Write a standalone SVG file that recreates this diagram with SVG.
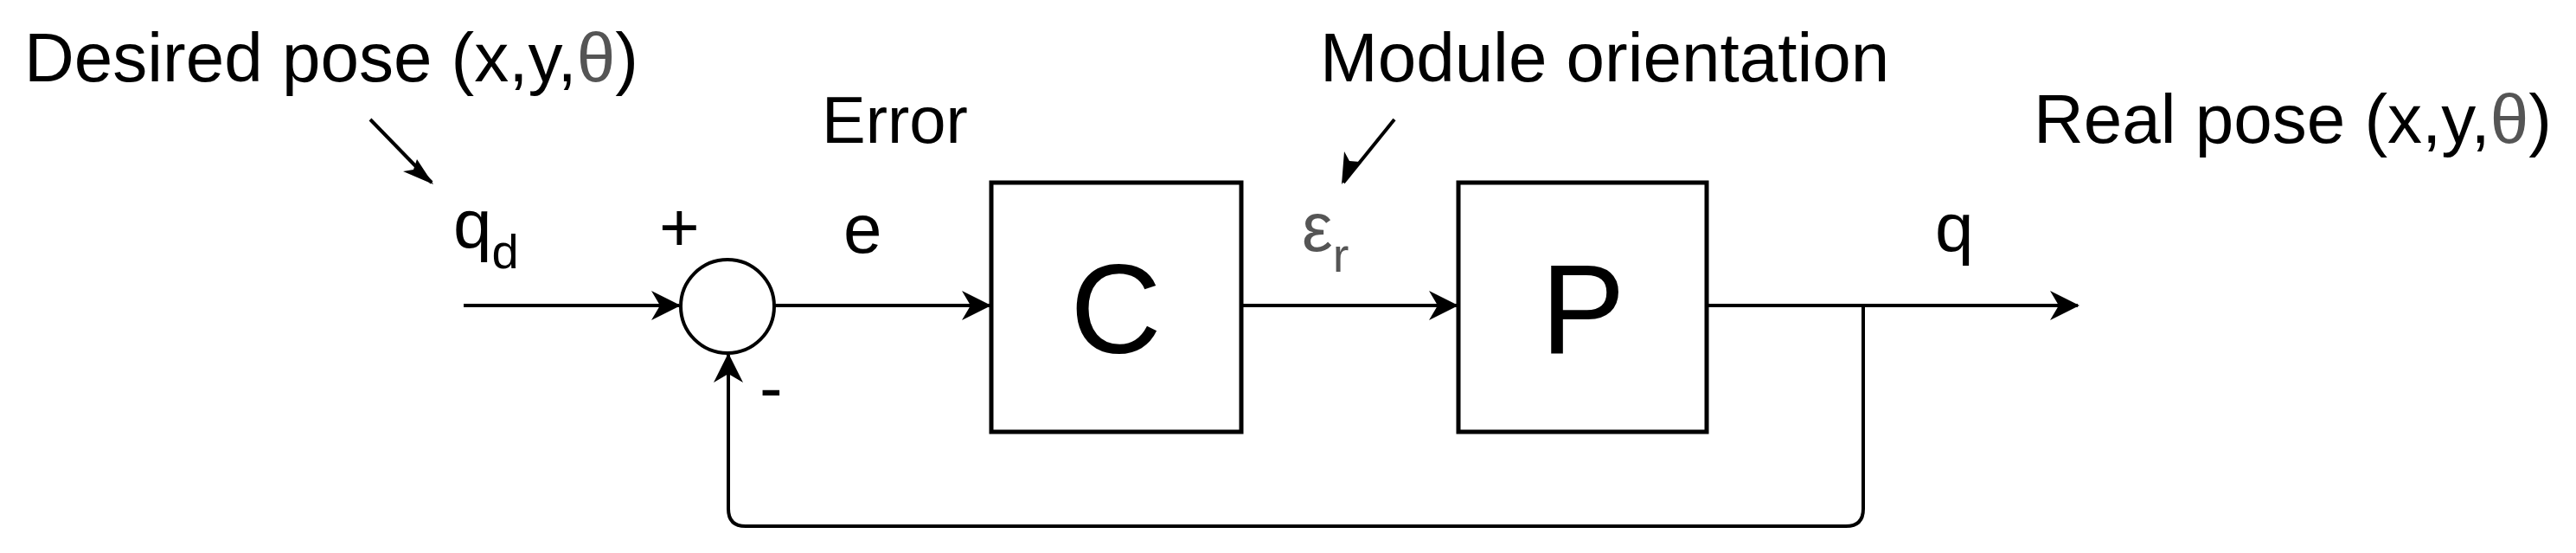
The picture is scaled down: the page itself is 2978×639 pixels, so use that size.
<svg xmlns="http://www.w3.org/2000/svg" width="2978" height="639" viewBox="0 0 2978 639">
<style>
text{font-family:"Liberation Sans",Arial,sans-serif;fill:#000}
.g{fill:#555}
.l{fill:none;stroke:#000;stroke-width:4}
</style>
<defs>
<marker id="a" markerWidth="12" markerHeight="10" refX="10" refY="5" orient="auto" markerUnits="userSpaceOnUse" viewBox="0 0 12 10" style="overflow:visible">
<path d="M0,0 L12,5 L0,10 L3,5 Z" fill="#000" transform="scale(3)"/>
</marker>
</defs>
<rect width="2978" height="639" fill="#fff"/>
<g id="connectors">
<path class="l" d="M536,353 H785" marker-end="url(#am)"/>
<path class="l" d="M895,353 H1144"/>
<path class="l" d="M1435,353 H1684"/>
<path class="l" d="M1973,353 H2402"/>
<path class="l" d="M2154,353 V588 Q2154,608 2134,608 H862 Q842,608 842,588 V410"/>
<path class="l" d="M428,138 L499,211"/>
<path class="l" d="M1612,138 L1553,211"/>
</g>
<g id="arrowheads" fill="#000">
<path d="M787,353 L753,336 L763,353 L753,370 Z"/>
<path d="M1146,353 L1112,336 L1122,353 L1112,370 Z"/>
<path d="M1686,353 L1652,336 L1662,353 L1652,370 Z"/>
<path d="M2404,353 L2370,336 L2380,353 L2370,370 Z"/>
<path d="M842,408 L825,442 L842,432 L859,442 Z"/>
<path d="M501,213 L466,198 L478,196 L482,184 Z"/>
<path d="M1551,213 L1554,175 L1560,186 L1572,187 Z"/>
</g>
<g id="sum"><circle cx="841" cy="354" r="54" fill="#fff" stroke="#000" stroke-width="4"/></g>
<g id="C"><rect x="1146" y="211" width="289" height="288" fill="#fff" stroke="#000" stroke-width="5"/><text x="1290" y="408" font-size="146" text-anchor="middle">C</text></g>
<g id="P"><rect x="1686" y="211" width="287" height="288" fill="#fff" stroke="#000" stroke-width="5"/><text x="1830" y="408" font-size="146" text-anchor="middle">P</text></g>
<g id="labels">
<text x="28" y="94" font-size="80">Desired pose (x,y,<tspan class="g">θ</tspan>)</text>
<text x="950" y="165" font-size="76">Error</text>
<text x="1526" y="94" font-size="80">Module orientation</text>
<text x="2351" y="165" font-size="80">Real pose (x,y,<tspan class="g">θ</tspan>)</text>
<text x="524" y="286" font-size="80">q<tspan font-size="56" dy="24">d</tspan></text>
<text x="762" y="290" font-size="80">+</text>
<text x="878" y="475" font-size="80">-</text>
<text x="975" y="292" font-size="80">e</text>
<text x="1505" y="290" font-size="80" class="g">ε<tspan font-size="56" dy="24">r</tspan></text>
<text x="2237" y="290" font-size="80">q</text>
</g>
</svg>
